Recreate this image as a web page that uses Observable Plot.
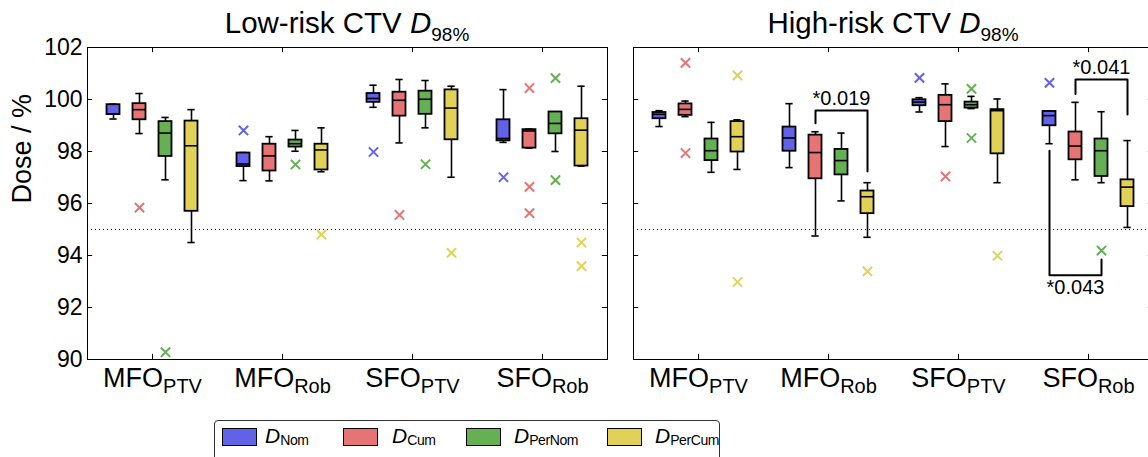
<!DOCTYPE html>
<html>
<head>
<meta charset="utf-8">
<script src="https://cdn.jsdelivr.net/npm/d3@7"></script>
<script src="https://cdn.jsdelivr.net/npm/@observablehq/plot@0.6"></script>
<style>
  body { margin: 0; background: #fff; font-family: "Liberation Sans", Arial, sans-serif; color: #000; }
  #fig { position: relative; width: 1148px; height: 457px; overflow: hidden; background: #fff; }
  .panel { position: absolute; top: 0; }
  .title { position: absolute; top: 8px; width: 520px; text-align: center; font-size: 29.5px; line-height: 29px; white-space: nowrap; }
  .title i { font-style: italic; }
  .title .sub { font-size: 19px; position: relative; top: 8px; }
  #legend { position: absolute; left: 214px; top: 420px; width: 504px; height: 60px; border: 1px solid #333; border-radius: 4px; }
  .sw { position: absolute; top: 7px; width: 33px; height: 16px; border: 1.2px solid #000; }
  .lab { position: absolute; top: 4px; font-size: 21px; line-height: 21px; white-space: nowrap; }
  .lab i { font-style: italic; }
  .lab .sub { font-size: 14px; letter-spacing: -0.4px; position: relative; top: 2px; }
</style>
</head>
<body>
<div id="fig">
  <div class="title" style="left:87px">Low-risk CTV <i>D</i><span class="sub">98%</span></div>
  <div class="title" style="left:633px">High-risk CTV <i>D</i><span class="sub">98%</span></div>
  <div id="legend"></div>
</div>
<script>
// Plan groups and dose series
const groups = ["MFO_PTV", "MFO_Rob", "SFO_PTV", "SFO_Rob"];
const series = ["Nom", "Cum", "PerNom", "PerCum"];
const seriesColors = ["#6262e8", "#e67474", "#64b052", "#e1d257"];
const yTicks = [90, 92, 94, 96, 98, 100, 102];
const threshold = 95;

// Box statistics: [group, series, whisker low, Q1, median, Q3, whisker high]
const lowRiskBoxes = [
  ["MFO_PTV", "Nom",    99.25, 99.42, 99.45, 99.80, 99.82],
  ["MFO_PTV", "Cum",    98.69, 99.22, 99.61, 99.84, 100.23],
  ["MFO_PTV", "PerNom", 96.91, 97.81, 98.71, 99.15, 99.31],
  ["MFO_PTV", "PerCum", 94.50, 95.70, 98.22, 99.17, 99.61],
  ["MFO_Rob", "Nom",    96.88, 97.42, 97.52, 97.94, 97.96],
  ["MFO_Rob", "Cum",    96.87, 97.25, 97.83, 98.28, 98.57],
  ["MFO_Rob", "PerNom", 98.01, 98.17, 98.30, 98.44, 98.81],
  ["MFO_Rob", "PerCum", 97.22, 97.29, 98.06, 98.28, 98.91],
  ["SFO_PTV", "Nom",    99.70, 99.89, 100.04, 100.23, 100.55],
  ["SFO_PTV", "Cum",    98.33, 99.36, 99.97, 100.28, 100.77],
  ["SFO_PTV", "PerNom", 98.91, 99.43, 100.01, 100.32, 100.73],
  ["SFO_PTV", "PerCum", 97.01, 98.45, 99.67, 100.37, 100.51],
  ["SFO_Rob", "Nom",    98.35, 98.41, 98.50, 99.22, 100.38],
  ["SFO_Rob", "Cum",    98.13, 98.13, 98.79, 98.84, 98.86],
  ["SFO_Rob", "PerNom", 98.00, 98.68, 99.08, 99.52, 99.52],
  ["SFO_Rob", "PerCum", 97.44, 97.44, 98.82, 99.26, 100.51]
];

// Outliers: [group, series, value]
const lowRiskOutliers = [
  ["MFO_PTV", "Cum", 95.84],
  ["MFO_PTV", "PerNom", 90.28],
  ["MFO_Rob", "Nom", 98.81],
  ["MFO_Rob", "PerNom", 97.50],
  ["MFO_Rob", "PerCum", 94.80],
  ["SFO_PTV", "Nom", 97.98],
  ["SFO_PTV", "Cum", 95.56],
  ["SFO_PTV", "PerNom", 97.51],
  ["SFO_PTV", "PerCum", 94.10],
  ["SFO_Rob", "Nom", 97.01],
  ["SFO_Rob", "Cum", 100.44],
  ["SFO_Rob", "Cum", 96.64],
  ["SFO_Rob", "Cum", 95.63],
  ["SFO_Rob", "PerNom", 100.82],
  ["SFO_Rob", "PerNom", 96.90],
  ["SFO_Rob", "PerCum", 94.50],
  ["SFO_Rob", "PerCum", 93.59]
];

const highRiskBoxes = [
  ["MFO_PTV", "Nom",    98.96, 99.26, 99.43, 99.50, 99.57],
  ["MFO_PTV", "Cum",    99.34, 99.39, 99.62, 99.83, 99.94],
  ["MFO_PTV", "PerNom", 97.20, 97.65, 98.03, 98.48, 99.12],
  ["MFO_PTV", "PerCum", 97.31, 97.98, 98.57, 99.15, 99.22],
  ["MFO_Rob", "Nom",    97.38, 98.01, 98.52, 98.94, 99.84],
  ["MFO_Rob", "Cum",    94.75, 96.95, 97.96, 98.63, 98.76],
  ["MFO_Rob", "PerNom", 96.10, 97.10, 97.65, 98.08, 98.71],
  ["MFO_Rob", "PerCum", 94.70, 95.61, 96.26, 96.48, 96.80],
  ["SFO_PTV", "Nom",    99.52, 99.76, 99.90, 99.99, 100.07],
  ["SFO_PTV", "Cum",    98.19, 99.15, 99.80, 100.16, 100.60],
  ["SFO_PTV", "PerNom", 99.65, 99.67, 99.80, 99.90, 100.12],
  ["SFO_PTV", "PerCum", 96.80, 97.91, 99.57, 99.61, 100.02],
  ["SFO_Rob", "Nom",    98.30, 98.99, 99.38, 99.54, 99.54],
  ["SFO_Rob", "Cum",    96.91, 97.68, 98.21, 98.75, 99.89],
  ["SFO_Rob", "PerNom", 96.80, 97.04, 98.03, 98.48, 99.53],
  ["SFO_Rob", "PerCum", 95.08, 95.88, 96.63, 96.91, 98.42]
];

const highRiskOutliers = [
  ["MFO_PTV", "Cum", 101.41],
  ["MFO_PTV", "Cum", 97.94],
  ["MFO_PTV", "PerCum", 100.93],
  ["MFO_PTV", "PerCum", 92.98],
  ["MFO_Rob", "PerCum", 93.39],
  ["SFO_PTV", "Nom", 100.83],
  ["SFO_PTV", "Cum", 97.04],
  ["SFO_PTV", "PerNom", 100.41],
  ["SFO_PTV", "PerNom", 98.52],
  ["SFO_PTV", "PerCum", 93.99],
  ["SFO_Rob", "Nom", 100.64],
  ["SFO_Rob", "PerNom", 94.19]
];

// Significance brackets: [group, from series, to series, leg end (from), leg end (to), bar level, label]
const highRiskBrackets = [
  ["MFO_Rob", "Cum", "PerCum", 99.09, 97.23, 99.58, "*0.019"],
  ["SFO_Rob", "Cum", "PerCum", 100.21, 99.42, 100.77, "*0.041"],
  ["SFO_Rob", "Nom", "PerNom", 98.03, 93.85, 93.24, "*0.043"]
];

// Each group spans 5 units on x: four boxes at unit offsets 1..4, group centre at 2.5
const pos = (g, s) => groups.indexOf(g) * 5 + 1 + series.indexOf(s);
const groupCenters = groups.map((g, i) => i * 5 + 2.5);

function panel(boxRows, outlierRows, bracketRows, {marginLeft, marginRight, width, showY}) {
  const boxes = boxRows.map(([group, s, lo, q1, med, q3, hi]) => ({group, series: s, lo, q1, med, q3, hi, x: pos(group, s)}));
  const outs = outlierRows.map(([group, s, v]) => ({series: s, v, x: pos(group, s)}));
  const brackets = bracketRows.map(([group, a, b, ya, yb, bar, label]) => ({xa: pos(group, a), xb: pos(group, b), ya, yb, bar, label}));
  const bracketPath = brackets.flatMap((d) => [
    {x: d.xa, y: d.ya, label: d.label},
    {x: d.xa, y: d.bar, label: d.label},
    {x: d.xb, y: d.bar, label: d.label},
    {x: d.xb, y: d.yb, label: d.label}
  ]);
  const above = brackets.filter((d) => d.bar > Math.max(d.ya, d.yb));
  const below = brackets.filter((d) => d.bar < Math.min(d.ya, d.yb));
  const xMax = groups.length * 5;
  const half = 0.25, cap = 0.14, tick = 0.2;
  const line = {stroke: "black", strokeWidth: 1.6};

  const marks = [
    Plot.ruleY([threshold], {stroke: "black", strokeWidth: 1, strokeDasharray: "1,3"}),
    // whiskers and caps
    Plot.ruleX(boxes, {x: "x", y1: "lo", y2: "q1", ...line}),
    Plot.ruleX(boxes, {x: "x", y1: "q3", y2: "hi", ...line}),
    Plot.ruleY(boxes, {y: "lo", x1: (d) => d.x - cap, x2: (d) => d.x + cap, ...line}),
    Plot.ruleY(boxes, {y: "hi", x1: (d) => d.x - cap, x2: (d) => d.x + cap, ...line}),
    // interquartile boxes and medians
    Plot.rect(boxes, {x1: (d) => d.x - half, x2: (d) => d.x + half, y1: "q1", y2: "q3", fill: "series", stroke: "black", strokeWidth: 1.8}),
    Plot.ruleY(boxes, {y: "med", x1: (d) => d.x - half, x2: (d) => d.x + half, ...line}),
    // outliers
    Plot.dot(outs, {x: "x", y: "v", symbol: "times", r: 4.3, stroke: "series", strokeWidth: 2}),
    // significance brackets
    Plot.line(bracketPath, {x: "x", y: "y", z: "label", stroke: "black", strokeWidth: 2}),
    Plot.text(above, {x: (d) => (d.xa + d.xb) / 2, y: "bar", text: "label", lineAnchor: "bottom", dy: -5, fontSize: 20}),
    Plot.text(below, {x: (d) => (d.xa + d.xb) / 2, y: "bar", text: "label", lineAnchor: "top", dy: 5, fontSize: 20}),
    // inward ticks on all four sides
    Plot.ruleY(yTicks, {y: (d) => d, x1: 0, x2: tick, stroke: "black", strokeWidth: 1}),
    Plot.ruleY(yTicks, {y: (d) => d, x1: xMax - tick, x2: xMax, stroke: "black", strokeWidth: 1}),
    Plot.ruleX(groupCenters, {x: (d) => d, y1: 102, y2: 102 - tick, stroke: "black", strokeWidth: 1}),
    Plot.ruleX(groupCenters, {x: (d) => d, y1: 90, y2: 90 + tick, stroke: "black", strokeWidth: 1}),
    Plot.frame({stroke: "black", strokeWidth: 1}),
    // group labels
    Plot.text(groups, {x: (d, i) => groupCenters[i], frameAnchor: "bottom", lineAnchor: "top", dy: 8, text: (d) => d, fontSize: 27})
  ];
  if (showY) {
    marks.push(Plot.axisY({ticks: yTicks, tickSize: 0, tickPadding: 5, fontSize: 23, label: null}));
    marks.push(Plot.text(["Dose / %"], {frameAnchor: "left", rotate: -90, dx: -65, fontSize: 27}));
  }

  const svg = Plot.plot({
    width, height: 399, marginLeft, marginRight, marginTop: 47, marginBottom: 40,
    x: {domain: [0, xMax], axis: null},
    y: showY ? {domain: [90, 102]} : {domain: [90, 102], axis: null},
    color: {domain: series, range: seriesColors},
    style: {fontFamily: "'Liberation Sans', Arial, sans-serif", fontSize: "23px", color: "black", background: "transparent", overflow: "visible"},
    marks
  });

  // Group labels carry a subscript after the underscore
  d3.select(svg).selectAll("text").each(function () {
    const t = this.textContent;
    if (t.includes("_") && this.childElementCount === 0) {
      const [main, sub] = t.split("_");
      this.textContent = main;
      d3.select(this).append("tspan").attr("dy", 6).attr("font-size", 20).text(sub);
    }
  });
  return svg;
}

const fig = document.getElementById("fig");
const left = panel(lowRiskBoxes, lowRiskOutliers, [], {marginLeft: 87, marginRight: 13, width: 620, showY: true});
left.classList.add("panel");
left.style.left = "0px";
fig.appendChild(left);

const right = panel(highRiskBoxes, highRiskOutliers, highRiskBrackets, {marginLeft: 10, marginRight: 10, width: 540, showY: false});
right.classList.add("panel");
right.style.left = "623px";
fig.appendChild(right);

// Legend
const legend = document.getElementById("legend");
const swatchLeft = [7, 128, 251, 392];
const labelLeft = [50, 177, 299, 440];
series.forEach((s, i) => {
  const sw = document.createElement("div");
  sw.className = "sw";
  sw.style.left = swatchLeft[i] + "px";
  sw.style.background = seriesColors[i];
  legend.appendChild(sw);
  const lab = document.createElement("div");
  lab.className = "lab";
  lab.style.left = labelLeft[i] + "px";
  lab.innerHTML = `<i>D</i><span class="sub">${s}</span>`;
  legend.appendChild(lab);
});
</script>
</body>
</html>
